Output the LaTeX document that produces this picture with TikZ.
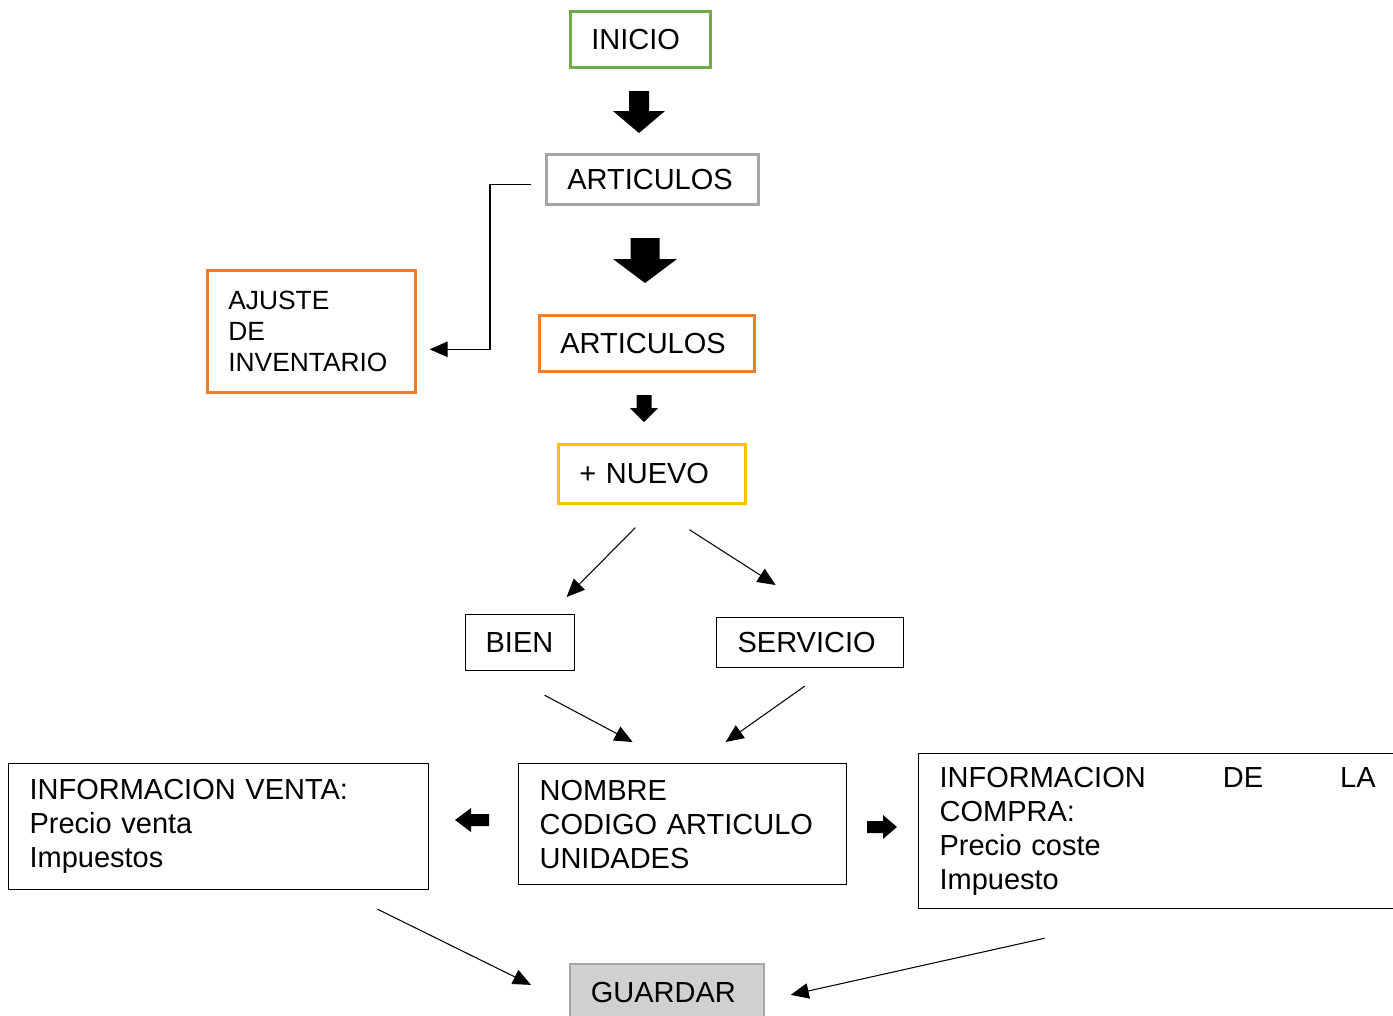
\documentclass[tikz,border=0pt]{standalone}
\usepackage{fontspec}
\setmainfont{Liberation Sans}
\usetikzlibrary{arrows.meta,calc}
\definecolor{verde}{HTML}{70AD47}
\definecolor{gris}{HTML}{A5A5A5}
\definecolor{naranja}{HTML}{ED7D31}
\definecolor{amarillo}{HTML}{FFC000}
\definecolor{relleno}{HTML}{D0D0D0}
\begin{document}
\begin{tikzpicture}[x=0.02cm, y=-0.02cm,
  caja/.style={draw, line width=0.7pt, anchor=north west, align=left, inner xsep=0.42cm, inner ysep=0pt, font=\fontsize{16.5}{19.3}\selectfont},
  cajacolor/.style={caja, draw=#1, line width=1.5pt},
  flecha/.style={line width=0.6pt, -{Triangle[length=0.36cm, width=0.31cm]}}]
\pgfmathsetlengthmacro\px{0.02cm};
\useasboundingbox (0,0) rectangle (1393,1015);
% cajas
\node[cajacolor=verde, minimum width=140*\px, minimum height=56*\px, text width=98*\px] (inicio) at (569,10) {INICIO};
\node[cajacolor=gris, minimum width=212*\px, minimum height=50*\px, text width=170*\px] (art1) at (545,153) {ARTICULOS};
\node[cajacolor=naranja, minimum width=215*\px, minimum height=56*\px, text width=173*\px] (art2) at (538,314) {ARTICULOS};
\node[cajacolor=amarillo, minimum width=187*\px, minimum height=59*\px, text width=145*\px] (nuevo) at (557,443) {+ NUEVO};
\node[cajacolor=naranja, minimum width=208*\px, minimum height=122*\px, text width=166*\px, font=\fontsize{15}{17.6}\selectfont] (ajuste) at (206,269) {AJUSTE\\DE\\INVENTARIO};
\node[caja, inner xsep=20*\px, minimum width=109*\px, minimum height=56*\px, text width=69*\px] (bien) at (465,614) {BIEN};
\node[caja, minimum width=187*\px, minimum height=50*\px, text width=145*\px] (servicio) at (716,617) {SERVICIO};
\node[caja, minimum width=328*\px, minimum height=121*\px, text width=286*\px] (nombre) at (518,763) {NOMBRE\\CODIGO ARTICULO\\UNIDADES};
\node[caja, minimum width=420*\px, minimum height=126*\px, text width=378*\px] (venta) at (8,763) {INFORMACION VENTA:\\Precio venta\\Impuestos};
\node[caja, minimum width=478*\px, minimum height=155*\px, text width=436*\px] (compra) at (918,753) {INFORMACION\hfill DE\hfill LA\\COMPRA:\\Precio coste\\Impuesto};
\node[caja, draw=gris, fill=relleno, line width=1pt, minimum width=194*\px, minimum height=58*\px, text width=152*\px] (guardar) at (569,963) {GUARDAR};
% flechas de bloque
\foreach \cx/\ty/\sw/\sl/\hw/\hl in {639/91/10/20/26/22, 645/238/14.5/21/32/24, 644/395/7.5/13/14/14}
  \fill (\cx-\sw,\ty) -- (\cx+\sw,\ty) -- (\cx+\sw,\ty+\sl) -- (\cx+\hw,\ty+\sl) -- (\cx,\ty+\sl+\hl) -- (\cx-\hw,\ty+\sl) -- (\cx-\sw,\ty+\sl) -- cycle;
\fill (455,820) -- (471,808) -- (471,814) -- (489,814) -- (489,826) -- (471,826) -- (471,832) -- cycle;
\fill (897,827) -- (883,815) -- (883,821) -- (867,821) -- (867,833) -- (883,833) -- (883,839) -- cycle;
% conectores
\draw[flecha] ($(art1.west)+(-14,5)$) -- ++(-41,0) |- ($(ajuste.east)+(13,18)$);
\draw[flecha] ($(nuevo.south)+(-16.5,23)$) -- ($(bien.north)+(46.5,-17)$);
\draw[flecha] ($(nuevo.south)+(37.5,25)$) -- ($(servicio.north)+(-34.5,-32)$);
\draw[flecha] ($(bien.south)+(24.5,24)$) -- ($(nombre.north)+(-50,-21)$);
\draw[flecha] ($(servicio.south)+(-5.5,18)$) -- ($(nombre.north)+(43,-21)$);
\draw[flecha] ($(venta.south)+(159,19)$) -- ($(guardar.west)+(-38,-8)$);
\draw[flecha] ($(compra.south)+(-113,29)$) -- ($(guardar.east)+(26,2)$);
\end{tikzpicture}
\end{document}
